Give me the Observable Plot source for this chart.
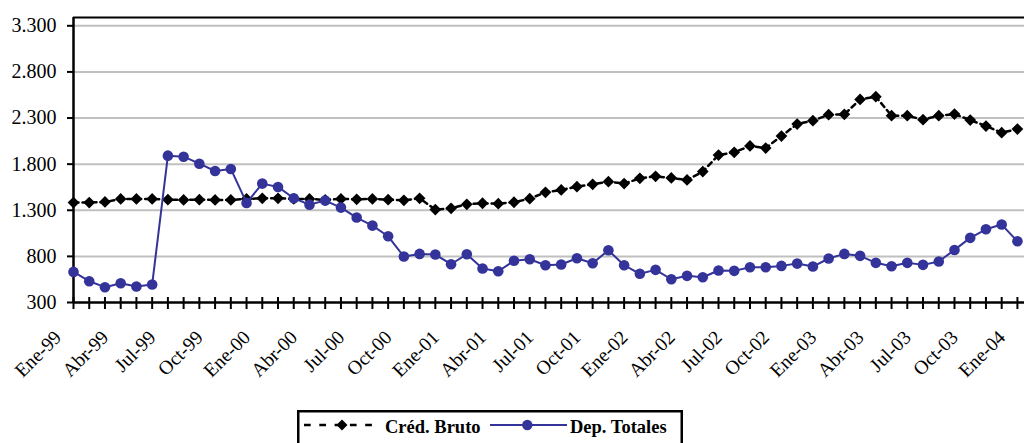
<!DOCTYPE html>
<html><head><meta charset="utf-8">
<script src="https://cdn.jsdelivr.net/npm/d3@7"></script>
<script src="https://cdn.jsdelivr.net/npm/@observablehq/plot@0.6"></script>
<style>
body{margin:0;background:#fff;overflow:hidden;font-family:"Liberation Serif","Times New Roman",serif;}
#wrap{position:relative;width:1024px;height:443px;overflow:hidden;}
#chart svg text{font-family:"Liberation Serif","Times New Roman",serif !important;}
#legend{position:absolute;left:0;top:0;pointer-events:none;}
#legend text{font-family:"Liberation Serif","Times New Roman",serif;font-weight:bold;font-size:18.5px;fill:#000;}
</style></head><body><div id="wrap"><div id="chart"></div><svg id="legend" width="1024" height="443"></svg></div>
<script>
const tickLabels = ["Ene-99","Abr-99","Jul-99","Oct-99","Ene-00","Abr-00","Jul-00","Oct-00","Ene-01","Abr-01","Jul-01","Oct-01","Ene-02","Abr-02","Jul-02","Oct-02","Ene-03","Abr-03","Jul-03","Oct-03","Ene-04"];
const credBruto = [1383,1383,1390,1423,1423,1423,1415,1412,1415,1412,1412,1423,1430,1430,1423,1423,1412,1423,1419,1423,1415,1408,1430,1307,1321,1365,1376,1372,1387,1426,1495,1520,1556,1581,1610,1589,1646,1668,1650,1629,1719,1899,1928,1997,1975,2105,2235,2271,2336,2340,2502,2531,2325,2325,2282,2325,2343,2278,2213,2141,2181];
const depTotales = [632,531,466,509,473,495,1892,1881,1805,1726,1748,1380,1589,1553,1430,1361,1405,1329,1221,1134,1018,798,827,820,715,823,668,639,752,769,704,712,780,726,866,704,611,654,552,589,574,647,643,682,682,697,722,690,777,827,806,730,693,730,708,744,870,1001,1094,1145,964];
const yTicks = [300,800,1300,1800,2300,2800,3300];
const seriesNames = ["Créd. Bruto","Dep. Totales"];

const cred = credBruto.map((v,i)=>({i, v}));
const dep = depTotales.map((v,i)=>({i, v}));
const labelData = tickLabels.map((t,k)=>({i:k*3, t}));
const fmt = d3.formatLocale({thousands:".", grouping:[3], decimal:","}).format(",");
const font = "Liberation Serif";
const blue = "#333399";

const chart = Plot.plot({
  width: 1024, height: 405,
  marginLeft: 73, marginRight: 0, marginTop: 17, marginBottom: 103,
  style: "font-family: 'Liberation Serif', 'Times New Roman', serif; background: #fff;",
  x: {domain: [0, 60.45], axis: null},
  y: {domain: [300, 3390], axis: null},
  marks: [
    Plot.ruleY(yTicks.slice(1), {stroke: "#c0c0c0", strokeWidth: 2}),
    Plot.ruleY([3390], {stroke: "#000", strokeWidth: 2}),
    Plot.axisY({ticks: yTicks, tickSize: 6, tickPadding: 11, tickFormat: fmt, fontSize: 20, fontFamily: font, stroke: "#000", strokeWidth: 2, color: "#000", label: null}),
    Plot.axisX({ticks: d3.range(61), tickSize: 12, dy: -5, tickFormat: () => "", stroke: "#000", strokeWidth: 2, label: null}),
    Plot.ruleX([0], {stroke: "#000", strokeWidth: 2.5}),
    Plot.ruleY([300], {stroke: "#000", strokeWidth: 2.5}),
    Plot.text(labelData, {x: "i", frameAnchor: "bottom", text: "t", rotate: -45, textAnchor: "end", dx: -11, dy: 36, fontSize: 19.5, fontFamily: font, fill: "#000"}),
    Plot.line(cred, {x: "i", y: "v", stroke: "#000", strokeWidth: 2.5, strokeDasharray: "5,4"}),
    Plot.dot(cred, {x: "i", y: "v", symbol: "diamond2", r: 5.3, fill: "#000", stroke: "none"}),
    Plot.line(dep, {x: "i", y: "v", stroke: blue, strokeWidth: 2}),
    Plot.dot(dep, {x: "i", y: "v", r: 5.3, fill: blue, stroke: "none"})
  ]
});
document.getElementById("chart").appendChild(chart);

document.getElementById("legend").innerHTML = `
<rect x="298.25" y="411.25" width="383.5" height="50" fill="#fff" stroke="#000" stroke-width="2.5"/>
<line x1="304" y1="425" x2="380" y2="425" stroke="#000" stroke-width="2.5" stroke-dasharray="6.7,8.6"/>
<path d="M342,419.5L347.5,425L342,430.5L336.5,425Z" fill="#000"/>
<text x="385" y="433.3">${seriesNames[0]}</text>
<line x1="490" y1="425" x2="567" y2="425" stroke="${blue}" stroke-width="2"/>
<circle cx="527.3" cy="425" r="5.2" fill="${blue}"/>
<text x="570" y="433.3">${seriesNames[1]}</text>`;
</script></body></html>
